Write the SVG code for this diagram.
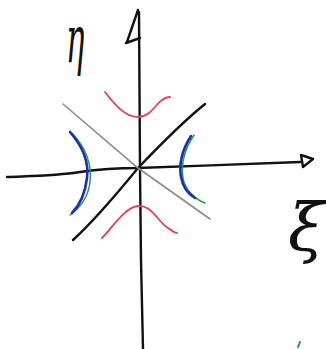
<svg xmlns="http://www.w3.org/2000/svg" width="326" height="349" viewBox="0 0 326 349">
<style>
.ax{fill:none;stroke:#111;stroke-width:2.4;stroke-linecap:round;stroke-linejoin:round}
.gr{fill:none;stroke:#8a8a8a;stroke-width:1.6;stroke-linecap:round}
.rd{fill:none;stroke:#e0405a;stroke-width:1.8;stroke-linecap:round}
.bl{fill:none;stroke:#1a2fb0;stroke-width:2.6;stroke-linecap:round}
.gn{fill:none;stroke:#2a9a3a;stroke-width:1.5;stroke-linecap:round}
.lb{font-family:"DejaVu Serif",serif;font-style:italic;fill:#111}
</style>
<rect width="326" height="349" fill="#fff"/>
<!-- axes -->
<path class="ax" d="M139,12 L139.5,90 L140,170 L141,260 L143,349"/>
<path class="ax" d="M127,42 L138,10 M126,43 L140,38"/>
<path class="ax" d="M7,177 C30,176 55,176 80,172 C100,169 120,168 138,168 C190,166 250,164 300,162"/>
<path class="ax" d="M301,155 L313,159 L303,167 Z"/>
<!-- asymptotes -->
<path class="ax" d="M73,240 C95,220 120,190 138,168 C160,145 185,120 205,104"/>
<path class="gr" d="M63,104 L138,168 L210,219"/>
<!-- red hyperbola branches -->
<path class="rd" d="M105,92 C115,105 125,117 138,117 C150,117 155,105 162,100 C166,97 169,97 170,97"/>
<path class="rd" d="M102,238 C112,228 125,207 138,206 C152,205 158,222 168,228 C172,231 175,233 177,233"/>
<!-- left blue/green branch -->
<path class="gn" d="M72,133 C86,148 92,165 90,182 C88,198 80,208 70,215"/>
<path class="bl" d="M70,132 C83,147 89,163 87,178 C85,195 78,207 72,213"/>
<!-- right blue/green branch -->
<path class="gn" d="M194,135 C184,150 181,165 183,178 C185,190 196,200 205,203"/>
<path class="bl" d="M191,136 C182,150 179,165 181,177 C183,188 190,195 195,198"/>
<!-- labels -->
<text class="lb" x="66" y="62" font-size="44" transform="translate(66,62) scale(0.7,1.5) translate(-66,-62)">η</text>
<text class="lb" x="288" y="250" font-size="66">ξ</text>
<path d="M298,347 L300,342" stroke="#2a9a3a" stroke-width="2" stroke-linecap="round"/>
</svg>
